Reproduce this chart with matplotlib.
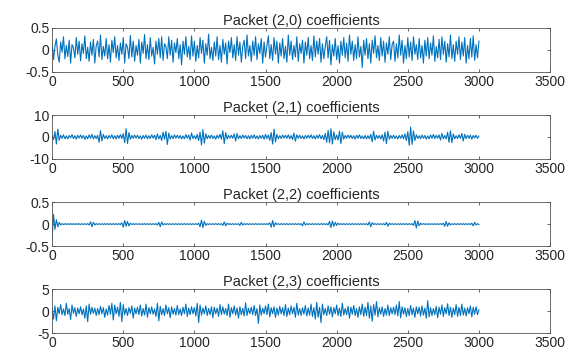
import numpy as np
import matplotlib
matplotlib.use("Agg")
import matplotlib.pyplot as plt

plt.rcParams['font.family'] = ['Liberation Sans', 'DejaVu Sans']
plt.rcParams['axes.unicode_minus'] = False

# sample spacing of the hand-read coefficient values
step = 10

titles = ['Packet (2,0) coefficients', 'Packet (2,1) coefficients',
          'Packet (2,2) coefficients', 'Packet (2,3) coefficients']

p20 = [0.15, -0.22, 0.08, 0.25, -0.12, -0.28, 0.18, -0.05, 0.3, -0.2, 0.1, -0.15, 0.22, -0.3, 0.12, 0.05, -0.18, 0.28, -0.1, 0.2,
       -0.25, 0.14, -0.08, 0.32, -0.2, 0.06, -0.26, 0.18, -0.12, 0.24, -0.3, 0.1, 0.2, -0.16, 0.34, -0.22, 0.08, -0.14, 0.26, -0.2,
       0.12, -0.28, 0.22, -0.06, 0.3, -0.18, 0.1, -0.24, 0.16, -0.1, 0.28, -0.3, 0.14, 0.06, -0.2, 0.33, -0.16, 0.2, -0.26, 0.1,
       -0.12, 0.24, -0.3, 0.18, -0.08, 0.35, -0.2, 0.12, -0.22, 0.28, -0.14, 0.06, -0.32, 0.2, -0.1, 0.26, -0.18, 0.3, -0.24, 0.14,
       0.08, -0.2, 0.3, -0.12, 0.22, -0.28, 0.16, -0.06, 0.26, -0.2, 0.12, -0.34, 0.2, -0.1, 0.3, -0.16, 0.08, -0.22, 0.32, -0.14,
       0.2, -0.26, 0.1, -0.18, 0.28, -0.08, 0.22, -0.3, 0.14, -0.12, 0.36, -0.2, 0.06, -0.24, 0.18, -0.14, 0.3, -0.22, 0.1, -0.28,
       0.24, -0.1, 0.16, -0.32, 0.2, -0.06, 0.28, -0.18, 0.12, -0.24, 0.3, -0.12, 0.18, -0.28, 0.08, 0.22, -0.2, 0.34, -0.14, 0.1,
       -0.26, 0.2, -0.12, 0.3, -0.22, 0.14, -0.08, 0.26, -0.3, 0.18, -0.16, 0.1, 0.32, -0.2, 0.12, -0.24, 0.28, -0.1, 0.2, -0.3,
       0.16, -0.14, 0.26, -0.2, 0.08, -0.28, 0.34, -0.12, 0.2, -0.22, 0.1, -0.16, 0.3, -0.26, 0.14, -0.08, 0.22, -0.3, 0.18, -0.12,
       0.28, -0.2, 0.1, -0.24, 0.32, -0.16, 0.2, -0.1, 0.26, -0.28, 0.14, -0.2, 0.08, 0.3, -0.18, 0.22, -0.34, 0.12, -0.14, 0.26,
       -0.22, 0.1, -0.3, 0.2, -0.12, 0.28, -0.18, 0.16, -0.26, 0.34, -0.1, 0.2, -0.24, 0.12, -0.2, 0.3, -0.16, 0.08, -0.4, 0.22,
       -0.12, 0.26, -0.2, 0.14, -0.3, 0.22, -0.08, 0.32, -0.18, 0.1, -0.24, 0.28, -0.14, 0.2, -0.28, 0.16, -0.1, 0.3, -0.22, 0.12,
       0.2, -0.26, 0.14, -0.18, 0.34, -0.12, 0.22, -0.3, 0.1, -0.2, 0.28, -0.16, 0.18, -0.24, 0.3, -0.1, 0.12, -0.22, 0.26, -0.18,
       0.1, -0.3, 0.22, -0.14, 0.28, -0.2, 0.16, -0.12, 0.32, -0.26, 0.08, -0.18, 0.24, -0.22, 0.3, -0.1, 0.2, -0.28, 0.14, -0.16,
       0.34, -0.2, 0.12, -0.26, 0.2, -0.1, 0.3, -0.22, 0.18, -0.14, 0.28, -0.3, 0.1, -0.2, 0.26, -0.16, 0.32, -0.24, 0.12, -0.18,
       0.2]

p21 = [0.4, -1.2, 2.5, -3.2, 3.6, -1.5, 0.8, -0.6, 1.0, -0.8, 0.5, -0.9, 0.7, -0.4, 1.1, -0.7, 0.6, -1.0, 0.8, -0.5,
       0.9, -0.6, 0.7, -1.1, 0.5, -0.8, 1.0, -0.6, 1.2, -0.9, 0.6, -0.7, 0.8, -2.4, 2.9, -1.8, 1.2, -0.7, 0.6, -0.9,
       0.7, -0.5, 1.0, -0.8, 0.6, -0.9, 0.8, -0.6, 1.1, -0.7, 1.5, -2.6, 3.8, -3.0, 2.0, -1.0, 0.7, -0.6, 0.9, -0.5,
       0.8, -0.7, 0.5, -1.0, 0.7, -0.6, 0.9, -0.8, 0.6, -0.7, 1.0, -0.5, 0.8, -1.2, 1.4, -0.9, 0.7, -1.6, 2.2, -1.0,
       2.6, -3.4, 1.8, -0.9, 0.6, -0.7, 1.0, -0.5, 0.8, -0.6, 0.7, -0.9, 0.5, -0.8, 1.1, -0.6, 0.9, -1.4, 1.8, -0.7,
       0.6, -0.9, 1.2, -1.6, 2.2, -3.6, 3.4, -2.8, 1.5, -0.8, 0.7, -0.6, 0.9, -0.7, 0.5, -1.0, 0.8, -0.6, 1.2, -1.0,
       2.8, -3.0, 2.0, -0.9, 0.7, -0.5, 0.8, -0.6, 1.4, -1.8, 1.6, -0.8, 0.6, -0.7, 0.9, -0.5, 0.7, -0.8, 0.6, -0.9,
       0.8, -0.6, 1.0, -0.7, 0.5, -0.9, 0.7, -0.6, 0.8, -1.0, 1.2, -0.7, 0.9, -1.5, 2.0, -3.2, 3.6, -2.2, 1.2, -0.8,
       0.6, -0.7, 0.9, -0.5, 0.8, -0.6, 1.0, -0.8, 0.7, -1.2, 1.8, -1.9, 1.0, -0.6, 0.8, -0.7, 0.5, -0.9, 0.7, -0.6,
       0.8, -0.5, 1.0, -0.7, 0.6, -0.9, 0.8, -0.6, 1.1, -0.8, 0.7, -1.2, 1.6, -2.4, 3.0, -2.6, 3.8, -3.2, 2.4, -1.2,
       0.9, -1.4, 2.6, -3.0, 2.2, -1.0, 0.7, -0.6, 0.9, -0.5, 0.8, -0.7, 0.6, -1.0, 0.8, -0.6, 1.0, -0.7, 0.5, -0.8,
       0.7, -0.9, 0.6, -0.8, 1.2, -2.2, 2.6, -1.4, 0.8, -0.6, 0.7, -0.9, 1.0, -1.8, 2.2, -3.0, 2.6, -1.0, 0.7, -0.6,
       0.8, -0.7, 0.5, -0.9, 0.7, -0.6, 1.0, -0.8, 1.4, -1.6, 2.4, -3.8, 4.6, -3.4, 2.8, -1.6, 1.0, -0.7, 0.6, -0.8,
       0.9, -0.6, 0.7, -1.0, 0.5, -0.8, 0.9, -0.6, 1.2, -0.7, 0.8, -0.6, 1.0, -1.4, 1.6, -0.8, 0.7, -0.9, 2.2, -2.4,
       2.8, -2.6, 1.4, -0.8, 0.6, -0.7, 1.0, -0.6, 1.6, -1.8, 1.2, -0.7, 0.8, -0.6, 0.9, -1.0, 0.7, -0.5, 0.8, -0.6,
       0.4]

p22 = [-0.35, 0.22, -0.12, 0.1, -0.06, 0.04, -0.02, 0.01, -0.01, 0.01, -0.01, 0.01, -0.01, 0.01, -0.01, 0.01, -0.01, 0.01, -0.01, 0.01,
       -0.01, 0.01, -0.01, 0.01, -0.01, 0.01, -0.02, 0.05, -0.06, 0.04, -0.02, 0.01, -0.01, 0.01, -0.01, 0.01, -0.01, 0.01, -0.01, 0.01,
       -0.01, 0.01, -0.01, 0.01, -0.01, 0.01, -0.01, 0.01, -0.01, 0.03, -0.07, 0.08, -0.05, 0.06, -0.04, 0.02, -0.01, 0.01, -0.01, 0.01,
       -0.01, 0.01, -0.01, 0.01, -0.01, 0.01, -0.01, 0.01, -0.01, 0.01, -0.01, 0.01, -0.01, 0.01, -0.02, 0.04, -0.06, 0.05, -0.02, 0.01,
       -0.01, 0.01, -0.01, 0.01, -0.01, 0.01, -0.01, 0.01, -0.01, 0.01, -0.01, 0.01, -0.01, 0.01, -0.01, 0.01, -0.01, 0.01, -0.01, 0.01,
       -0.01, 0.01, -0.01, 0.02, -0.06, 0.09, -0.08, 0.06, -0.03, 0.01, -0.01, 0.01, -0.01, 0.01, -0.01, 0.01, -0.01, 0.01, -0.01, 0.01,
       -0.03, 0.05, -0.04, 0.02, -0.01, 0.01, -0.01, 0.01, -0.01, 0.01, -0.01, 0.01, -0.03, 0.04, -0.02, 0.01, -0.01, 0.01, -0.01, 0.01,
       -0.01, 0.01, -0.01, 0.01, -0.01, 0.01, -0.01, 0.01, -0.01, 0.01, -0.01, 0.01, -0.01, 0.03, -0.07, 0.08, -0.06, 0.03, -0.01, 0.01,
       -0.01, 0.01, -0.01, 0.01, -0.01, 0.01, -0.01, 0.01, -0.01, 0.01, -0.01, 0.01, -0.01, 0.01, -0.01, 0.01, -0.04, 0.05, -0.02, 0.01,
       -0.01, 0.01, -0.01, 0.01, -0.01, 0.01, -0.01, 0.01, -0.01, 0.01, -0.01, 0.01, -0.01, 0.01, -0.02, 0.06, -0.08, 0.07, -0.05, 0.04,
       -0.03, 0.02, -0.01, 0.01, -0.01, 0.01, -0.01, 0.01, -0.01, 0.01, -0.01, 0.01, -0.01, 0.01, -0.01, 0.01, -0.01, 0.01, -0.01, 0.01,
       -0.01, 0.01, -0.02, 0.05, -0.06, 0.03, -0.01, 0.01, -0.01, 0.01, -0.01, 0.01, -0.01, 0.01, -0.02, 0.04, -0.05, 0.02, -0.01, 0.01,
       -0.01, 0.01, -0.01, 0.01, -0.01, 0.01, -0.01, 0.01, -0.01, 0.01, -0.01, 0.01, -0.01, 0.01, -0.03, 0.08, -0.09, 0.07, -0.04, 0.02,
       -0.01, 0.01, -0.01, 0.01, -0.01, 0.01, -0.01, 0.01, -0.01, 0.01, -0.01, 0.01, -0.01, 0.01, -0.01, 0.02, -0.05, 0.06, -0.05, 0.03,
       -0.02, 0.01, -0.01, 0.01, -0.01, 0.01, -0.01, 0.01, -0.01, 0.01, -0.01, 0.01, -0.01, 0.01, -0.01, 0.02, -0.04, 0.04, -0.02, 0.01,
       -0.01]

p23 = [0.4, -1.8, 1.2, -2.2, 0.9, -0.6, 1.5, -0.8, 0.5, -1.0, 1.8, -0.7, 0.6, -1.9, 1.4, -0.5, 0.8, -1.2, 0.7, -0.6,
       1.0, -0.8, 0.5, -1.6, 1.2, -2.4, 1.6, -0.7, 0.9, -0.5, 0.7, -1.0, 0.6, -0.8, 1.1, -0.6, 0.8, -1.4, 0.5, -0.9,
       1.3, -0.7, 1.8, -2.0, 1.4, -0.6, 0.9, -1.2, 2.0, -2.4, 1.5, -0.8, 0.6, -1.0, 0.8, -0.5, 1.2, -1.6, 0.7, -0.6,
       0.9, -0.8, 1.4, -1.1, 0.6, -0.9, 1.6, -1.4, 0.8, -0.6, 1.0, -0.7, 0.5, -1.2, 1.8, -2.2, 1.1, -0.8, 0.6, -1.0,
       1.4, -0.6, 0.8, -1.5, 1.0, -0.7, 0.6, -0.9, 1.3, -0.8, 0.5, -1.0, 0.9, -0.6, 1.6, -1.2, 0.7, -0.8, 1.0, -0.6,
       0.8, -1.1, 1.8, -2.6, 1.4, -0.9, 0.7, -0.6, 1.2, -1.0, 0.6, -0.8, 1.0, -1.5, 0.9, -0.6, 0.7, -1.2, 1.5, -0.8,
       1.0, -0.7, 0.6, -1.0, 1.6, -1.4, 0.8, -0.6, 1.2, -0.9, 0.7, -1.6, 1.0, -0.8, 0.6, -1.1, 1.9, -1.0, 0.7, -0.6,
       0.9, -0.8, 1.3, -1.0, 0.6, -2.8, 1.4, -0.9, 0.7, -0.6, 1.2, -0.8, 1.6, -1.3, 0.8, -0.6, 1.0, -1.4, 0.7, -0.9,
       1.1, -0.6, 0.8, -1.0, 1.5, -1.2, 0.7, -0.8, 1.2, -0.6, 0.9, -1.4, 1.8, -0.9, 0.6, -1.0, 0.8, -0.7, 1.3, -1.1,
       0.7, -0.9, 1.6, -1.2, 0.8, -1.8, 2.0, -1.4, 0.9, -2.6, 1.6, -0.8, 0.6, -1.0, 1.2, -0.7, 1.0, -1.3, 0.8, -0.6,
       1.4, -1.0, 0.7, -1.2, 1.8, -0.9, 0.6, -0.8, 1.1, -1.6, 0.9, -0.7, 1.3, -1.0, 0.6, -1.4, 1.0, -0.8, 1.6, -1.2,
       0.9, -1.0, 2.0, -1.6, 1.2, -2.3, 1.5, -0.9, 2.2, -1.3, 0.8, -0.7, 1.0, -1.2, 0.6, -0.9, 1.4, -1.0, 0.8, -0.6,
       0.9, -0.8, 1.4, -1.1, 2.2, -1.5, 1.0, -0.7, 0.8, -1.2, 0.6, -1.0, 1.3, -0.8, 0.7, -1.4, 1.0, -0.6, 0.9, -1.1,
       1.2, -0.9, 0.7, -1.6, 2.4, -1.3, 0.8, -1.0, 0.6, -0.8, 1.1, -1.5, 0.9, -0.7, 1.4, -1.2, 0.8, -0.6, 1.7, -1.0,
       0.9, -1.4, 0.7, -0.8, 1.5, -1.2, 0.9, -1.0, 1.6, -0.9, 0.7, -1.1, 0.8, -0.6, 1.2, -1.3, 0.9, -0.7, 1.0, -0.8,
       0.3]

series = [p20, p21, p22, p23]
ylims = [(-0.5, 0.5), (-10, 10), (-0.5, 0.5), (-5, 5)]
ylabels = [['-0.5', '0', '0.5'], ['-10', '0', '10'], ['-0.5', '0', '0.5'], ['-5', '0', '5']]
xticks = [0, 500, 1000, 1500, 2000, 2500, 3000, 3500]

fig = plt.figure(figsize=(5.79, 3.54), dpi=100)
bottoms = [0.797, 0.551, 0.305, 0.059]
height = 0.124

for k in range(4):
    ax = fig.add_axes([0.090, bottoms[k], 0.860, height])
    vals = series[k]
    x = np.arange(len(vals)) * step
    ax.plot(x, vals, color='#0072BD', lw=0.8)
    ax.set_xlim(0, 3500)
    ax.set_ylim(*ylims[k])
    ax.set_yticks([ylims[k][0], 0, ylims[k][1]])
    ax.set_yticklabels(ylabels[k])
    ax.set_xticks(xticks)
    ax.set_title(titles[k], fontsize=10.5, color='#262626', pad=2)
    ax.tick_params(direction='in', top=True, right=True, length=2.5, width=0.5,
                   labelsize=10, colors='#262626', pad=2)
    for s in ax.spines.values():
        s.set_color('#555555')
        s.set_linewidth(0.6)

fig.savefig('out.png', dpi=100)
